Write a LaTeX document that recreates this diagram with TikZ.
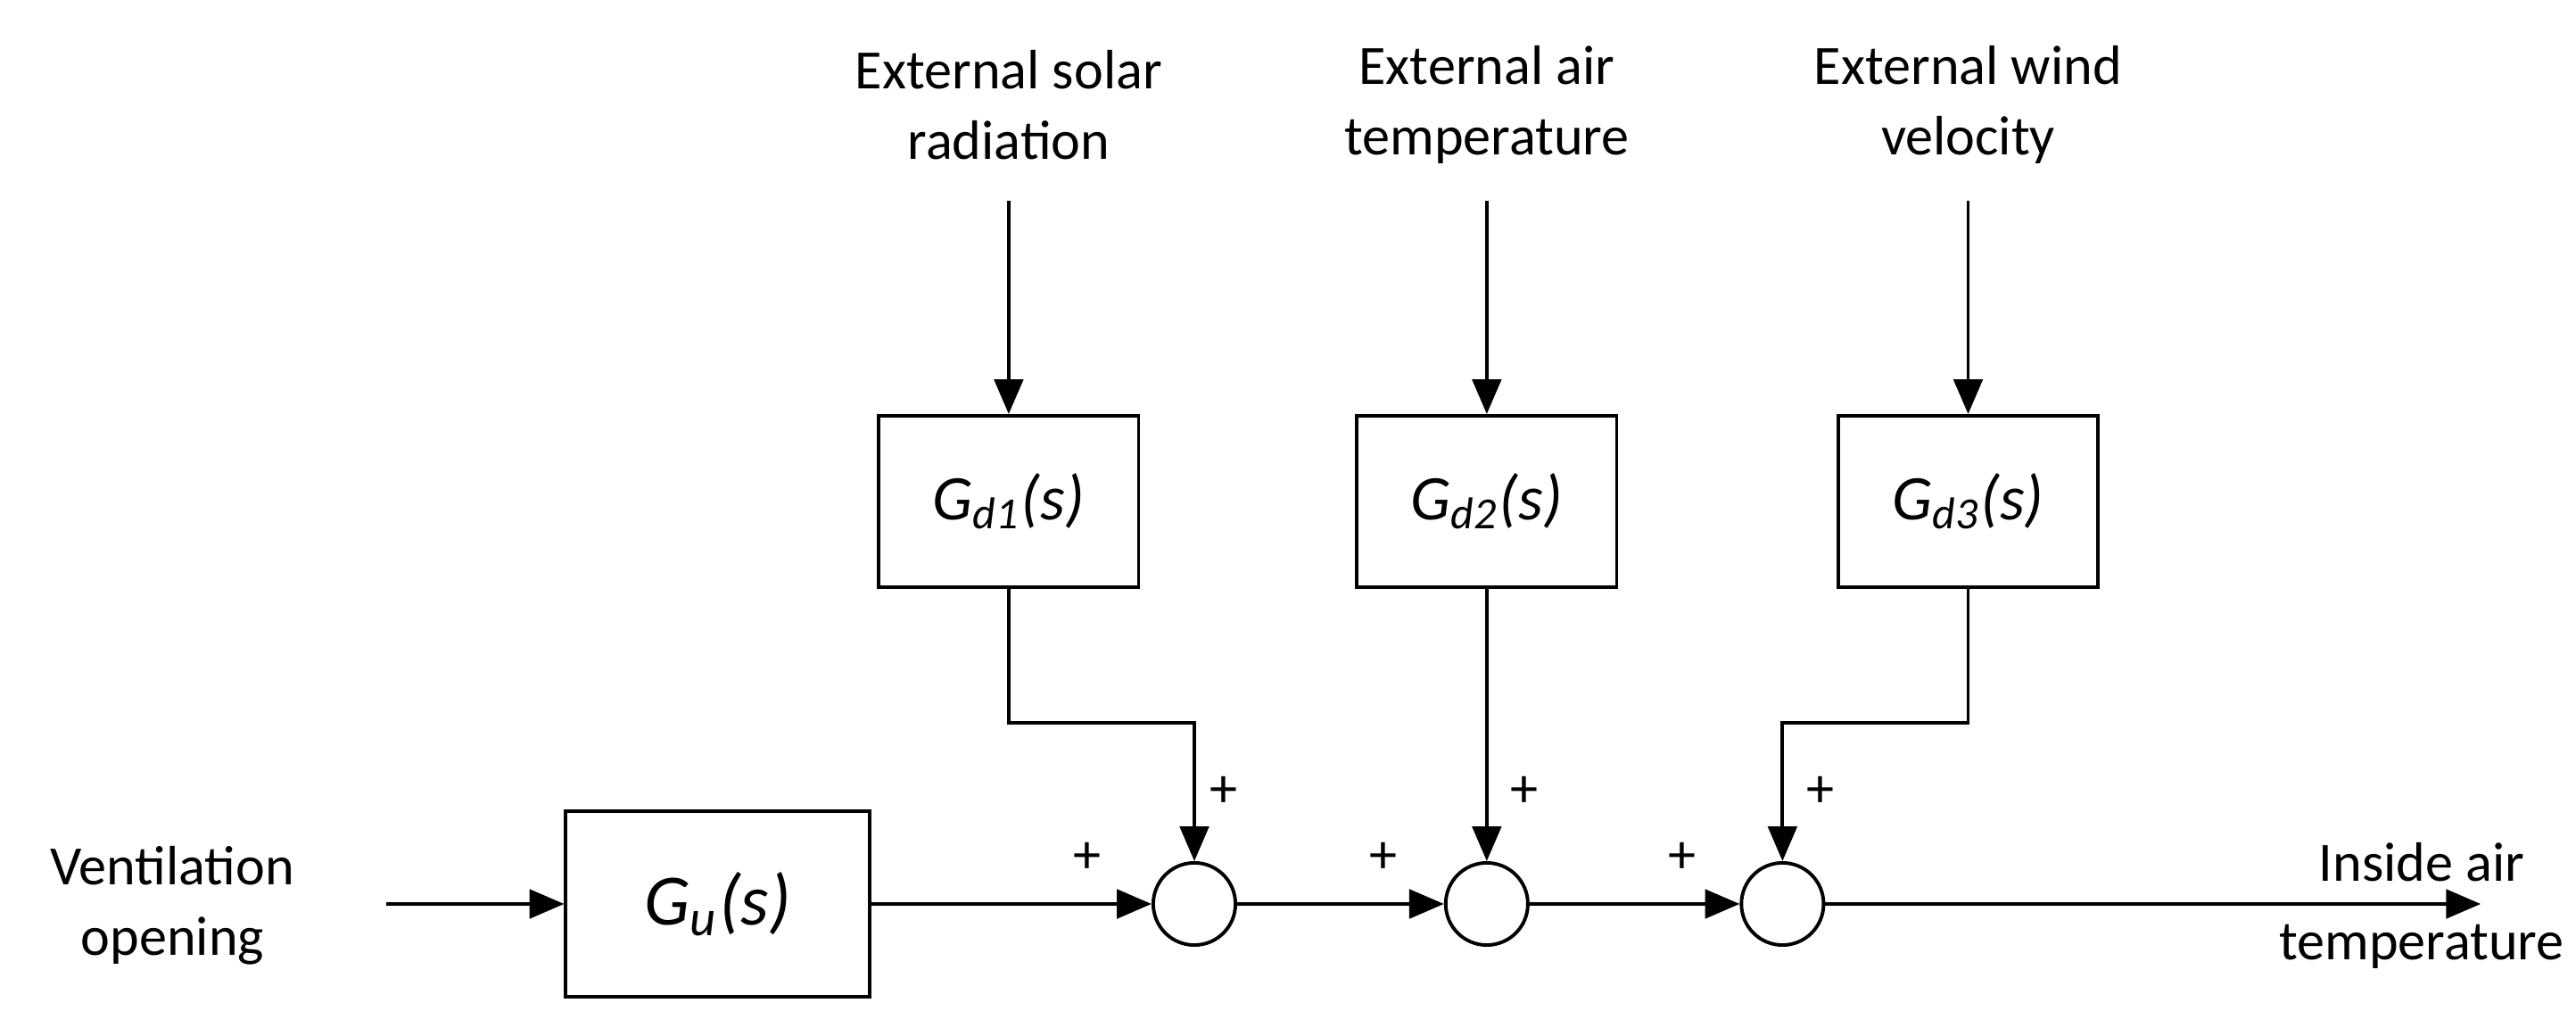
\documentclass[tikz,border=0pt]{standalone}
\usepackage{fontspec}
\setmainfont{Carlito}
\usetikzlibrary{arrows.meta}
\begin{document}
\begin{tikzpicture}[x=0.01cm,y=-0.01cm,
  blk/.style={draw,line width=0.6pt,minimum width=1.58cm,minimum height=1.04cm,font=\fontsize{11}{13}\selectfont\itshape},
  sumj/.style={draw,circle,line width=0.6pt,minimum size=0.5cm,inner sep=0pt},
  lbl/.style={align=center,font=\fontsize{9.6}{12.2}\selectfont},
  sig/.style={line width=0.6pt,-{Triangle[length=6pt,width=5pt]}},
  pls/.style={font=\fontsize{9.6}{12}\selectfont}]
\useasboundingbox (0,0) rectangle (1568,625);

%% Blocks
\node[blk,minimum width=1.85cm,minimum height=1.13cm,font=\fontsize{12.5}{14}\selectfont\itshape] (gu) at (437,550) {G\textsubscript{u}(s)};
\node[blk] (gd1) at (614,305) {G\textsubscript{d1}(s)};
\node[blk] (gd2) at (905,305) {G\textsubscript{d2}(s)};
\node[blk] (gd3) at (1198,305) {G\textsubscript{d3}(s)};

%% Summing junctions
\node[sumj] (s1) at (727,550) {};
\node[sumj] (s2) at (905,550) {};
\node[sumj] (s3) at (1085,550) {};

%% Labels
\node[lbl] (vo) at (105,551) {Ventilation\\opening};
\node[lbl,font=\fontsize{9.6}{13.6}\selectfont] (ia) at (1474,551) {Inside air\\temperature};
\node[lbl] (esr) at (614,64) {External solar\\radiation};
\node[lbl] (eat) at (905,64) {External air\\temperature};
\node[lbl] (ewv) at (1198,64) {External wind\\velocity};
\coordinate (in) at (235,550);
\coordinate (out) at (1510,550);

%% Forward path
\draw[sig] (in) -- (gu.west);
\draw[sig] (gu.east) -- (s1.west);
\draw[sig] (s1) -- (s2.west);
\draw[sig] (s2) -- (s3.west);
\draw[sig] (s3) -- (out);

%% Disturbances
\draw[sig] (614,122) -- (gd1.north);
\draw[sig] (905,122) -- (gd2.north);
\draw[sig] (1198,122) -- (gd3.north);
\draw[sig] (gd1.south) |- (727,440) -- (s1.north);
\draw[sig] (gd2.south) -- (s2.north);
\draw[sig] (gd3.south) |- (1085,440) -- (s3.north);

%% Signs
\node[pls] at (745,482) {+};
\node[pls] at (662,522) {+};
\node[pls] at (928,482) {+};
\node[pls] at (842,522) {+};
\node[pls] at (1108,482) {+};
\node[pls] at (1024,522) {+};
\end{tikzpicture}
\end{document}
